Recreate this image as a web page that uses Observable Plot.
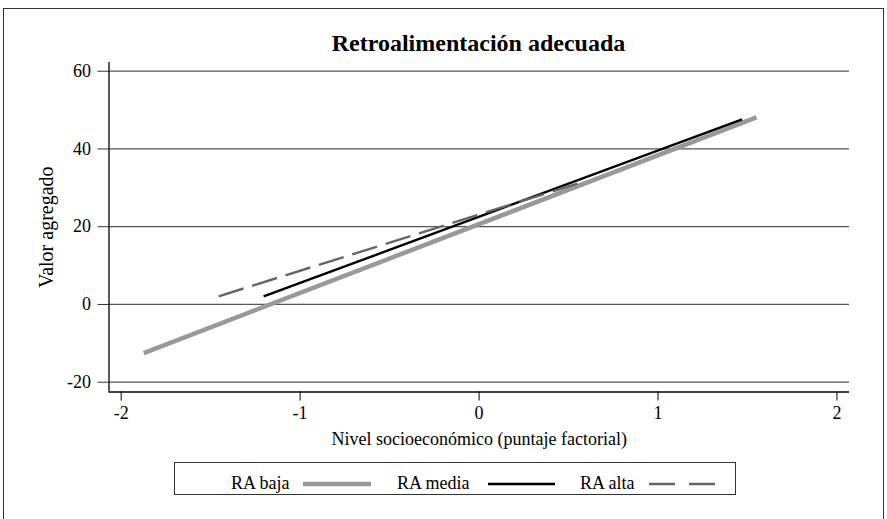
<!DOCTYPE html>
<html><head><meta charset="utf-8">
<script src="https://cdn.jsdelivr.net/npm/d3@7"></script>
<script src="https://cdn.jsdelivr.net/npm/@observablehq/plot@0.6"></script>
<style>
body{margin:0;background:#fff;overflow:hidden;font-family:"Liberation Serif",serif;}
#wrap{position:relative;width:887px;height:519px;overflow:hidden;background:#fff;}
#frame{position:absolute;left:3px;top:8px;width:879px;height:530px;border:1.5px solid #333;}
#chart{position:absolute;left:0;top:0;}
#title{position:absolute;left:0;width:957px;top:29px;text-align:center;font-weight:bold;font-size:24px;line-height:28px;color:#000;}
#legend{position:absolute;left:174px;top:462px;width:560px;height:31px;border:1.5px solid #333;}
.lt{position:absolute;top:9px;font-size:18px;line-height:22px;color:#000;white-space:nowrap;}
.sw{position:absolute;top:0;}
</style></head>
<body>
<div id="wrap">
  <div id="frame"></div>
  <div id="chart"></div>
  <div id="title">Retroalimentación adecuada</div>
  <div id="legend"></div>
</div>
<script>
// Data
const series = ["RA baja", "RA media", "RA alta"];
const xStart = [-1.874, -1.204, -1.455];
const yStart = [-12.5, 2.06, 2.1];
const xEnd = [1.550, 1.470, 0.578];
const yEnd = [48.1, 47.6, 31.5];
const xTicks = [-2, -1, 0, 1, 2];
const yTicks = [-20, 0, 20, 40, 60];
const xLabel = "Nivel socioeconómico (puntaje factorial)";
const yLabel = "Valor agregado";

const styles = {
  "RA baja": {stroke: "#999999", strokeWidth: 4.5, dash: null},
  "RA media": {stroke: "#000000", strokeWidth: 2.4, dash: null},
  "RA alta": {stroke: "#666666", strokeWidth: 2.4, dash: "26,9"}
};

const rows = series.map((s, i) => ({series: s, x1: xStart[i], y1: yStart[i], x2: xEnd[i], y2: yEnd[i]}));
const xDom = [-2.068, 2.07];
const yDom = [-22.52, 62.24];

const lineMarks = series.map(s => Plot.link(rows.filter(r => r.series === s), {
  x1: "x1", y1: "y1", x2: "x2", y2: "y2",
  stroke: styles[s].stroke, strokeWidth: styles[s].strokeWidth,
  strokeDasharray: styles[s].dash || undefined, strokeLinecap: "butt"
}));

const chart = Plot.plot({
  width: 887, height: 519,
  marginLeft: 108.5, marginRight: 38, marginTop: 62, marginBottom: 127.5,
  x: {domain: xDom},
  y: {domain: yDom},
  style: {fontFamily: "Liberation Serif", fontSize: "18px", color: "#000", background: "transparent", overflow: "visible"},
  marks: [
    Plot.ruleY(yTicks, {stroke: "#555", strokeWidth: 1.2}),
    Plot.ruleX([xDom[0]], {stroke: "#000", strokeWidth: 1.3}),
    Plot.ruleY([yDom[0]], {stroke: "#000", strokeWidth: 1.3}),
    Plot.axisY({ticks: yTicks, tickSize: 11, tickPadding: 7, tickFormat: d => String(d), stroke: "#333", label: null}),
    Plot.axisY({ticks: [], label: yLabel, labelAnchor: "center", labelOffset: 70, labelArrow: "none", fontSize: 20}),
    Plot.axisX({ticks: xTicks, tickSize: 9, tickPadding: 5, tickFormat: d => String(d), stroke: "#000",
      label: xLabel, labelAnchor: "center", labelOffset: 53, labelArrow: "none"}),
    ...lineMarks
  ]
});
document.getElementById("chart").appendChild(chart);

// Legend
const legend = document.getElementById("legend");
const legendPos = [
  {text: 56, sw: [128, 196]},
  {text: 222, sw: [313, 380]},
  {text: 405, sw: [474, 542]}
];
series.forEach((s, i) => {
  const t = document.createElement("span");
  t.className = "lt"; t.style.left = legendPos[i].text + "px"; t.textContent = s;
  legend.appendChild(t);
  const [a, b] = legendPos[i].sw;
  const svg = document.createElementNS("http://www.w3.org/2000/svg", "svg");
  svg.setAttribute("class", "sw"); svg.setAttribute("width", 560); svg.setAttribute("height", 31);
  svg.style.left = "0px";
  const ln = document.createElementNS("http://www.w3.org/2000/svg", "line");
  ln.setAttribute("x1", a); ln.setAttribute("x2", b); ln.setAttribute("y1", 21); ln.setAttribute("y2", 21);
  ln.setAttribute("stroke", styles[s].stroke); ln.setAttribute("stroke-width", styles[s].strokeWidth);
  if (styles[s].dash) ln.setAttribute("stroke-dasharray", "26,14");
  svg.appendChild(ln);
  legend.appendChild(svg);
});
</script>
</body></html>
